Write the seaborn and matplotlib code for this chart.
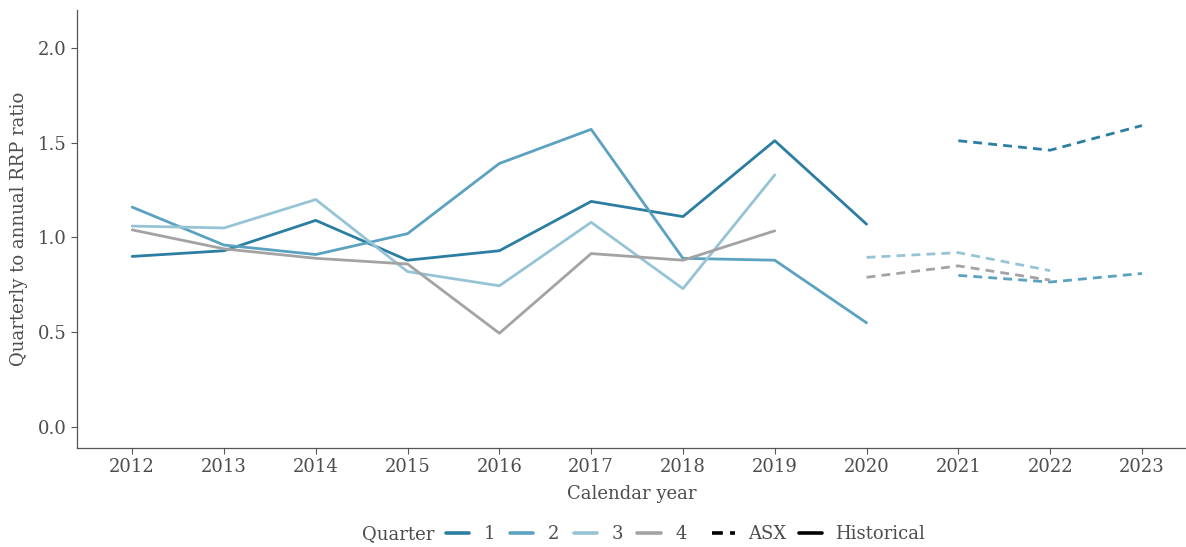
import numpy as np
import pandas as pd
import matplotlib.pyplot as plt
import seaborn as sns
from matplotlib.lines import Line2D

# historical ratios, 2012-2020
hist_years = [2012, 2013, 2014, 2015, 2016, 2017, 2018, 2019, 2020]
hist_q1 = [0.90, 0.93, 1.09, 0.88, 0.93, 1.19, 1.11, 1.51, 1.07]
hist_q2 = [1.16, 0.96, 0.91, 1.02, 1.39, 1.57, 0.89, 0.88, 0.55]
hist_q3 = [1.06, 1.05, 1.20, 0.82, 0.745, 1.08, 0.73, 1.33]
hist_q4 = [1.04, 0.94, 0.89, 0.86, 0.495, 0.915, 0.88, 1.035]

# ASX futures based ratios
asx_years_12 = [2021, 2022, 2023]
asx_q1 = [1.51, 1.46, 1.59]
asx_q2 = [0.80, 0.765, 0.81]
asx_years_34 = [2020, 2021, 2022]
asx_q3 = [0.895, 0.92, 0.825]
asx_q4 = [0.79, 0.85, 0.775]

quarters = ["1", "2", "3", "4"]
palette = {"1": "#2b7ea1", "2": "#5ba2c0", "3": "#96c4d6", "4": "#a3a3a3"}

rows = []
for q, vals in zip(quarters, [hist_q1, hist_q2, hist_q3, hist_q4]):
    for y, v in zip(hist_years, vals):
        rows.append((y, q, v, "Historical"))
for q, yrs, vals in [("1", asx_years_12, asx_q1), ("2", asx_years_12, asx_q2),
                     ("3", asx_years_34, asx_q3), ("4", asx_years_34, asx_q4)]:
    for y, v in zip(yrs, vals):
        rows.append((y, q, v, "ASX"))
df = pd.DataFrame(rows, columns=["year", "quarter", "ratio", "source"])

sns.set_style("ticks")
plt.rcParams["font.family"] = ["DejaVu Serif"]
text_col = "#4d4d4d"
fs = 13

fig = plt.figure(figsize=(11.86, 5.47), dpi=100)
ax = fig.add_axes([0.065, 0.181, 0.935, 0.801])

sns.lineplot(data=df, x="year", y="ratio", hue="quarter", style="source",
             hue_order=quarters, palette=palette,
             dashes={"Historical": "", "ASX": (3.2, 2.2)},
             style_order=["ASX", "Historical"], linewidth=2.0,
             legend=False, ax=ax)

ax.set_xlim(2011.4, 2023.48)
ax.set_ylim(-0.11, 2.2)
ax.set_xticks(range(2012, 2024))
ax.set_yticks([0.0, 0.5, 1.0, 1.5, 2.0])
ax.set_yticklabels(["0.0", "0.5", "1.0", "1.5", "2.0"])
ax.tick_params(colors="#555555", labelsize=fs, length=4, width=0.8, labelcolor=text_col)
ax.set_xlabel("Calendar year", fontsize=fs, color=text_col, labelpad=6)
ax.set_ylabel("Quarterly to annual RRP ratio", fontsize=fs, color=text_col, labelpad=7)
for s in ["top", "right"]:
    ax.spines[s].set_visible(False)
for s in ["left", "bottom"]:
    ax.spines[s].set_color("#555555")
    ax.spines[s].set_linewidth(0.9)

# legend: "Quarter" title inline, then the quarters, then line styles
leg_y = 1 - 534 / 547
fig.text(362 / 1186, leg_y, "Quarter", fontsize=fs, color=text_col, va="center", ha="left")

q_handles = [Line2D([], [], color=palette[q], lw=2.6) for q in quarters]
leg1 = fig.legend(q_handles, quarters, loc="center left", bbox_to_anchor=(446 / 1186, leg_y),
                  ncol=4, frameon=False, handlelength=1.3, handletextpad=0.8,
                  columnspacing=0.8, fontsize=fs, borderpad=0, borderaxespad=0)
for t in leg1.get_texts():
    t.set_color(text_col)

s_handles = [Line2D([], [], color="black", lw=2.6, dashes=(3, 2)),
             Line2D([], [], color="black", lw=2.6)]
leg2 = fig.legend(s_handles, ["ASX", "Historical"], loc="center left",
                  bbox_to_anchor=(712 / 1186, leg_y), ncol=2, frameon=False,
                  handlelength=1.3, handletextpad=0.7, columnspacing=0.7,
                  fontsize=fs, borderpad=0, borderaxespad=0)
for t in leg2.get_texts():
    t.set_color(text_col)

fig.savefig("out.png", dpi=100)
